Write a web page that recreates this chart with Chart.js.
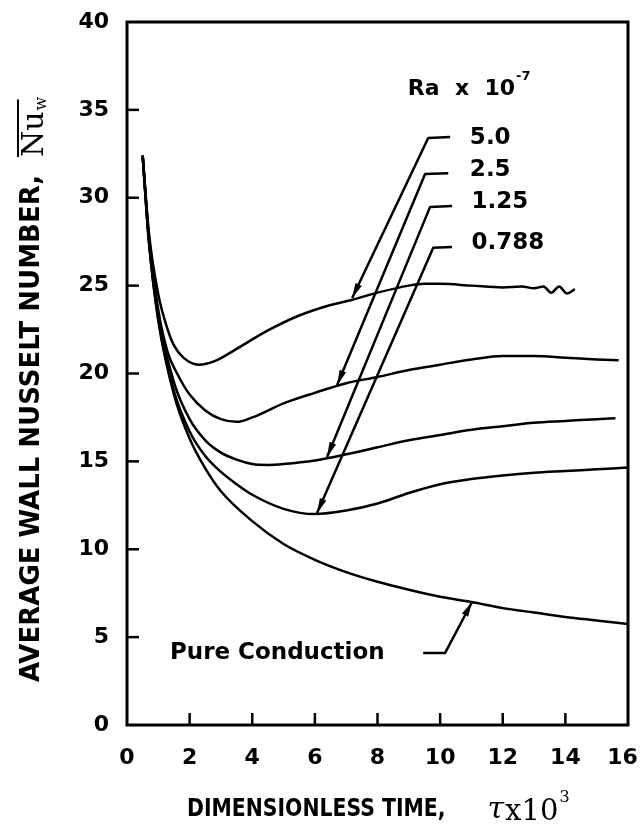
<!DOCTYPE html>
<html>
<head>
<meta charset="utf-8">
<script src="https://cdn.jsdelivr.net/npm/chart.js@4.4.1/dist/chart.umd.min.js"></script>
<style>
  body { margin: 0; background: #fff; }
  canvas { display: block; }
</style>
</head>
<body>
<canvas id="nusseltChart" width="641" height="831"></canvas>
<script>
// Average wall Nusselt number vs dimensionless time (tau x 10^3)
const tauCond = [0.5, 0.7, 1.0, 1.5, 2.0, 2.5, 3.0, 4.0, 5.0, 6.0, 7.0, 8.0, 9.0, 10.0, 11.0, 12.0, 13.0, 14.0, 15.0, 16.0];
const nuCond  = [32.4, 27.5, 23.0, 18.8, 16.3, 14.6, 13.3, 11.6, 10.3, 9.4, 8.7, 8.15, 7.7, 7.3, 7.0, 6.65, 6.4, 6.15, 5.95, 5.75];

const tau0788 = [0.5, 0.7, 1.0, 1.5, 2.0, 2.5, 3.0, 3.5, 4.0, 5.0, 6.0, 7.0, 8.0, 9.0, 10.0, 11.0, 12.0, 13.0, 14.0, 15.0, 16.0];
const nu0788  = [32.4, 27.5, 23.1, 19.0, 16.7, 15.3, 14.4, 13.7, 13.1, 12.3, 12.0, 12.2, 12.6, 13.2, 13.7, 14.0, 14.2, 14.35, 14.45, 14.55, 14.65];

const tau125 = [0.5, 0.7, 1.0, 1.5, 2.0, 2.5, 3.0, 3.5, 4.0, 4.5, 5.0, 6.0, 7.0, 8.0, 9.0, 10.0, 11.0, 12.0, 13.0, 14.0, 15.0, 15.6];
const nu125  = [32.4, 27.6, 23.3, 19.5, 17.4, 16.2, 15.5, 15.1, 14.85, 14.8, 14.85, 15.05, 15.4, 15.8, 16.2, 16.5, 16.8, 17.0, 17.2, 17.3, 17.4, 17.45];

const tau25 = [0.5, 0.7, 1.0, 1.3, 1.6, 2.0, 2.5, 3.0, 3.5, 4.0, 5.0, 6.0, 7.0, 8.0, 9.0, 10.0, 11.0, 12.0, 13.0, 14.0, 15.0, 15.7];
const nu25  = [32.4, 27.8, 23.6, 21.2, 20.0, 18.8, 17.9, 17.4, 17.25, 17.5, 18.3, 18.9, 19.45, 19.8, 20.2, 20.5, 20.8, 21.0, 21.0, 20.9, 20.8, 20.75];

const tau50 = [0.5, 0.7, 1.0, 1.3, 1.5, 1.8, 2.3, 2.8, 3.5, 4.5, 5.5, 6.5, 7.2, 8.0, 9.0, 9.5, 10.0, 11.0, 12.0, 12.6, 13.0, 13.3, 13.55, 13.8, 14.05, 14.3];
const nu50  = [32.4, 28.0, 24.5, 22.5, 21.6, 20.9, 20.5, 20.7, 21.4, 22.45, 23.3, 23.9, 24.2, 24.6, 25.0, 25.1, 25.1, 25.0, 24.9, 24.95, 24.85, 24.95, 24.6, 24.95, 24.55, 24.8];

const xTicks = [0, 2, 4, 6, 8, 10, 12, 14, 16];
const yTicks = [0, 5, 10, 15, 20, 25, 30, 35, 40];

const raLabels = ['5.0', '2.5', '1.25', '0.788'];

function toPoints(xs, ys) {
    return xs.map((v, i) => ({ x: v, y: ys[i] }));
}

// leader lines in data units: label end -> corner -> arrow tip
const leaders = [
    { tau: [10.32, 9.62, 7.19], nu: [33.45, 33.4, 24.3], text: raLabels[0], at: [10.95, 33.4] },
    { tau: [10.26, 9.52, 6.71], nu: [31.4, 31.35, 19.35], text: raLabels[1], at: [10.95, 31.55] },
    { tau: [10.38, 9.68, 6.39], nu: [29.53, 29.48, 15.25], text: raLabels[2], at: [11.0, 29.75] },
    { tau: [10.38, 9.78, 6.07], nu: [27.2, 27.15, 12.06], text: raLabels[3], at: [11.0, 27.45] }
];
const condLeader = { tau: [9.46, 10.16, 11.02], nu: [4.1, 4.1, 7.0] };

function arrowHead(ctx, x0, y0, x1, y1) {
    const ang = Math.atan2(y1 - y0, x1 - x0);
    const len = 15, half = 3.5;
    ctx.beginPath();
    ctx.moveTo(x1, y1);
    ctx.lineTo(x1 - len * Math.cos(ang) + half * Math.sin(ang), y1 - len * Math.sin(ang) - half * Math.cos(ang));
    ctx.lineTo(x1 - len * Math.cos(ang) - half * Math.sin(ang), y1 - len * Math.sin(ang) + half * Math.cos(ang));
    ctx.closePath();
    ctx.fill();
}

function leaderLine(ctx, x, y, l) {
    const px = l.tau.map(v => x.getPixelForValue(v));
    const py = l.nu.map(v => y.getPixelForValue(v));
    ctx.beginPath();
    ctx.moveTo(px[0], py[0]);
    for (let i = 1; i < px.length; i++) ctx.lineTo(px[i], py[i]);
    ctx.stroke();
    const n = px.length;
    arrowHead(ctx, px[n - 2], py[n - 2], px[n - 1], py[n - 1]);
}

const framePlugin = {
    id: 'frame',
    afterDraw(chart) {
        const { ctx, chartArea: a, scales: { x, y } } = chart;
        ctx.save();
        ctx.strokeStyle = '#000';
        ctx.fillStyle = '#000';
        ctx.lineWidth = 3;
        ctx.strokeRect(a.left, a.top, a.right - a.left, a.bottom - a.top);

        // inward tick marks
        ctx.lineWidth = 2.5;
        x.ticks.forEach(t => {
            if (t.value <= 0 || t.value >= 16) return;
            const px = x.getPixelForValue(t.value);
            ctx.beginPath(); ctx.moveTo(px, a.bottom); ctx.lineTo(px, a.bottom - 12); ctx.stroke();
        });
        y.ticks.forEach(t => {
            if (t.value <= 0 || t.value >= 40) return;
            const py = y.getPixelForValue(t.value);
            ctx.beginPath(); ctx.moveTo(a.left, py); ctx.lineTo(a.left + 12, py); ctx.stroke();
        });

        // Ra leaders
        ctx.lineWidth = 2.5;
        ctx.lineJoin = 'round';
        ctx.font = 'bold 23px "DejaVu Sans"';
        ctx.textBaseline = 'middle';
        ctx.textAlign = 'left';
        leaders.forEach(l => {
            leaderLine(ctx, x, y, l);
            ctx.fillText(l.text, x.getPixelForValue(l.at[0]), y.getPixelForValue(l.at[1]));
        });
        leaderLine(ctx, x, y, condLeader);

        // Ra x 10^-7 header
        ctx.font = 'bold 22px "DejaVu Sans"';
        let hx = x.getPixelForValue(8.97), hy = y.getPixelForValue(36.2);
        ctx.fillText('Ra  x  10', hx, hy);
        const hw = ctx.measureText('Ra  x  10').width;
        ctx.font = 'bold 13px "DejaVu Sans"';
        ctx.fillText('-7', hx + hw + 1, hy - 12);

        // Pure Conduction
        ctx.font = 'bold 23px "DejaVu Sans"';
        ctx.fillText('Pure Conduction', x.getPixelForValue(1.37), y.getPixelForValue(4.1));

        // y-axis title
        ctx.save();
        ctx.translate(32, 682);
        ctx.rotate(-Math.PI / 2);
        ctx.font = 'bold 26px "DejaVu Sans"';
        ctx.fillText('AVERAGE WALL NUSSELT NUMBER,', 0, 0);
        const tw = ctx.measureText('AVERAGE WALL NUSSELT NUMBER,').width;
        ctx.font = '30px "DejaVu Serif"';
        const nx = tw + 18;
        ctx.fillText('Nu', nx, 3);
        const nw = ctx.measureText('Nu').width;
        ctx.font = '16px "DejaVu Serif"';
        ctx.fillText('w', nx + nw + 1, 10);
        ctx.lineWidth = 2;
        ctx.beginPath(); ctx.moveTo(nx, -14); ctx.lineTo(nx + nw + 12, -14); ctx.stroke();
        ctx.restore();

        // x-axis title
        ctx.save();
        ctx.translate(187, 810);
        ctx.scale(0.85, 1);
        ctx.font = 'bold 24px "DejaVu Sans"';
        ctx.fillText('DIMENSIONLESS TIME,', 0, 0);
        const xw = ctx.measureText('DIMENSIONLESS TIME,').width;
        ctx.restore();
        let sx = 187 + xw * 0.85 + 42;
        ctx.font = 'italic 30px "DejaVu Serif"';
        ctx.fillText('τ', sx, 810);
        sx += ctx.measureText('τ').width + 1;
        ctx.font = '29px "DejaVu Serif"';
        ctx.fillText('x10', sx, 812);
        sx += ctx.measureText('x10').width + 1;
        ctx.font = '16px "DejaVu Serif"';
        ctx.fillText('3', sx, 798);
        ctx.restore();
    }
};

function curve(xs, ys) {
    return {
        data: toPoints(xs, ys),
        borderColor: '#000',
        borderWidth: 2.5,
        pointRadius: 0,
        showLine: true,
        fill: false,
        cubicInterpolationMode: 'monotone'
    };
}

Chart.defaults.font.family = '"DejaVu Sans"';
Chart.defaults.color = '#000';

new Chart(document.getElementById('nusseltChart').getContext('2d'), {
    type: 'scatter',
    data: {
        datasets: [
            curve(tauCond, nuCond),
            curve(tau0788, nu0788),
            curve(tau125, nu125),
            curve(tau25, nu25),
            curve(tau50, nu50)
        ]
    },
    options: {
        responsive: false,
        animation: false,
        layout: { padding: { top: 22, right: 13, left: 0, bottom: 0 } },
        plugins: { legend: { display: false }, tooltip: { enabled: false } },
        scales: {
            x: {
                type: 'linear',
                min: 0,
                max: 16,
                afterBuildTicks: s => { s.ticks = xTicks.map(v => ({ value: v })); },
                afterFit: s => { s.height = 106; s.paddingLeft = 0; s.paddingRight = 0; },
                grid: { display: false, drawTicks: false },
                border: { display: false },
                ticks: {
                    padding: 20,
                    font: { size: 22, weight: 'bold' },
                    maxRotation: 0,
                    // keep the last label inside the canvas
                    callback: v => (v === 16 ? '16\u2002' : String(v))
                }
            },
            y: {
                type: 'linear',
                min: 0,
                max: 40,
                afterBuildTicks: s => { s.ticks = yTicks.map(v => ({ value: v })); },
                afterFit: s => { s.width = 127; s.paddingTop = 0; s.paddingBottom = 0; },
                grid: { display: false, drawTicks: false },
                border: { display: false },
                ticks: { padding: 18, font: { size: 22, weight: 'bold' } }
            }
        }
    },
    plugins: [framePlugin]
});
</script>
</body>
</html>
